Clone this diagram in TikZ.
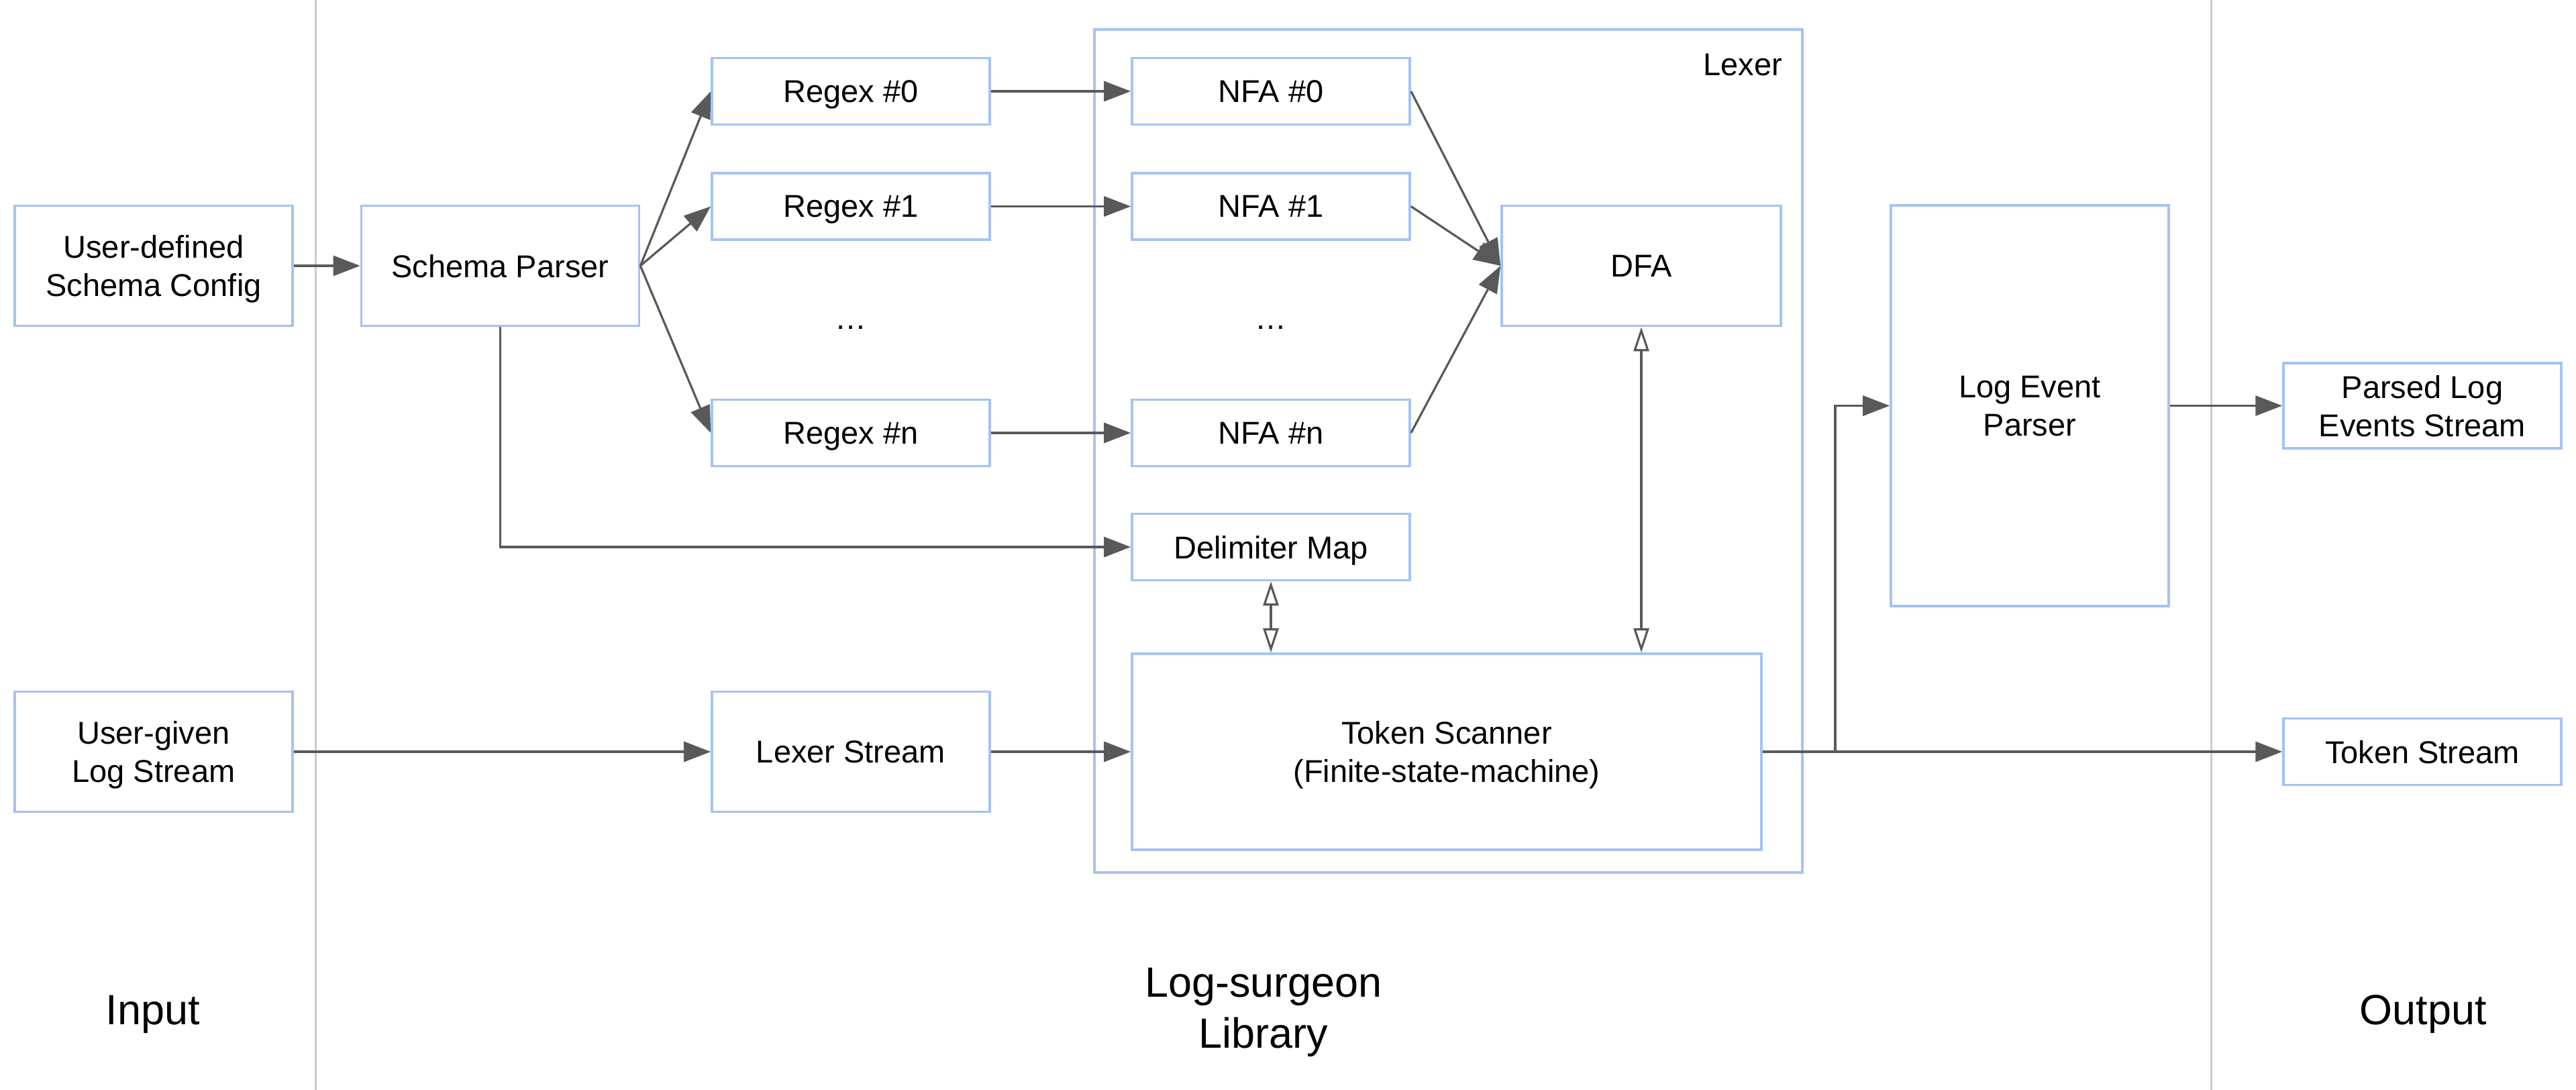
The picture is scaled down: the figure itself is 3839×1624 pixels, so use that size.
\documentclass[tikz,border=0pt]{standalone}
\usepackage{fontspec}
\setmainfont{Liberation Sans}
\usetikzlibrary{arrows.meta}
\definecolor{boxblue}{HTML}{A4C2F4}
\definecolor{arrgray}{HTML}{595959}
\definecolor{divgray}{HTML}{CCCCCC}
\begin{document}
\begin{tikzpicture}[x=0.25pt,y=-0.25pt,
  box/.style={draw=boxblue, line width=0.9pt, inner sep=0pt, align=center,
    font=\fontsize{11.75}{14.25}\selectfont, text=black, text depth=0pt},
  bigbox/.style={box, minimum width=103.5pt, minimum height=44.75pt},
  smallbox/.style={box, minimum width=103.5pt, minimum height=24.75pt},
  arr/.style={draw=arrgray, line width=0.8pt, -{Triangle[length=10pt,width=7.5pt]}, arrgray},
  oarr/.style={draw=arrgray, line width=0.8pt,
    {Triangle[length=9pt,width=5.75pt,fill=white]}-{Triangle[length=9pt,width=5.75pt,fill=white]}},
  divider/.style={draw=divgray, line width=0.75pt},
  lbl/.style={font=\fontsize{15.75}{19}\selectfont, align=center, inner sep=0pt, text depth=0pt},
  txt/.style={font=\fontsize{11.75}{14.25}\selectfont, inner sep=0pt}
]
\path[use as bounding box] (0,0) rectangle (3839,1624);

% dividers
\coordinate (d1t) at (470,0); \coordinate (d1b) at (470,1624);
\coordinate (d2t) at (3295,0); \coordinate (d2b) at (3295,1624);
\draw[divider] (d1t) -- (d1b);
\draw[divider] (d2t) -- (d2b);

% lexer frame
\node[box, minimum width=263.75pt, minimum height=314pt] (lexer) at (2158.5,672) {};
\node[txt, anchor=base east] (lexlbl) at (2657,113) {Lexer};

% input column
\node[bigbox] (cfg) at (229,396) {User-defined\\Schema Config};
\node[bigbox] (ug) at (229,1120) {User-given\\Log Stream};

% library column
\node[bigbox] (sp) at (745.5,396) {Schema Parser};
\node[smallbox] (r0) at (1268,136) {Regex \#0};
\node[smallbox] (r1) at (1268,307.5) {Regex \#1};
\node[txt] (dots1) at (1268,488) {…};
\node[smallbox] (rn) at (1268,645) {Regex \#n};
\node[bigbox] (ls) at (1268,1120) {Lexer Stream};

\node[smallbox] (n0) at (1894,136) {NFA \#0};
\node[smallbox] (n1) at (1894,307.5) {NFA \#1};
\node[txt] (dots2) at (1894,488) {…};
\node[smallbox] (nn) at (1894,645) {NFA \#n};
\node[smallbox] (dm) at (1894,815) {Delimiter Map};
\node[box, minimum width=104pt, minimum height=44.75pt] (dfa) at (2446,396) {DFA};
\node[box, minimum width=234.5pt, minimum height=73pt] (ts) at (2156,1120) {Token Scanner\\(Finite-state-machine)};

\node[box, minimum width=103.5pt, minimum height=149.25pt] (lep) at (3025,604.5) {Log Event\\Parser};

% output column
\node[box, minimum width=103.5pt, minimum height=31.75pt] (plo) at (3610,604.5) {Parsed Log\\Events Stream};
\node[smallbox] (tks) at (3610,1120) {Token Stream};

% bottom labels
\node[lbl, anchor=base] (lin) at (228,1526) {Input};
\node[lbl] (llib) at (1883,1502) {Log-surgeon\\Library};
\node[lbl, anchor=base] (lout) at (3611,1526) {Output};

% connectors
\draw[arr] (cfg.east) -- (sp.west);
\draw[arr] (sp.east) -- (r0.west);
\draw[arr] (sp.east) -- (r1.west);
\draw[arr] (sp.east) -- (rn.west);
\draw[arr] (r0.east) -- (n0.west);
\draw[arr] (r1.east) -- (n1.west);
\draw[arr] (rn.east) -- (nn.west);
\draw[arr] (n0.east) -- (dfa.west);
\draw[arr] (n1.east) -- (dfa.west);
\draw[arr] (nn.east) -- (dfa.west);
\draw[arr] (sp.south) |- (dm.west);
\draw[arr] (ug.east) -- (ls.west);
\draw[arr] (ls.east) -- (ts.west);
\draw[oarr] (dfa.south) -- (dfa.south |- ts.north);
\draw[oarr] (dm.south) -- (dm.south |- ts.north);
\draw[arr] (ts.east) -- (tks.west);
\coordinate (br) at (2735,1120);
\draw[arr] (br) |- (lep.west);
\draw[arr] (lep.east) -- (plo.west);
\end{tikzpicture}
\end{document}
